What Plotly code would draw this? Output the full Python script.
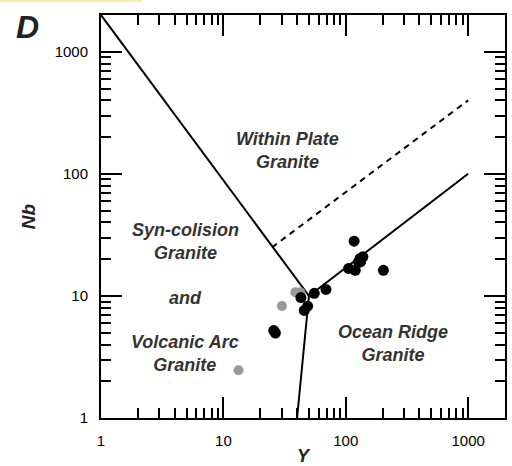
import plotly.graph_objects as go
import math

# Boundary lines (Pearce et al. 1984 Nb-Y diagram)
vag_wpg_x = [1, 50]
vag_wpg_y = [2000, 10]
org_x = [40, 50, 1000]
org_y = [1, 10, 100]
dash_x = [25, 1000]
dash_y = [25, 400]

# Samples
black_y_vals = [117, 131, 138, 127, 132, 105.5, 119.6, 203, 68.9, 55.3, 43, 48.8, 45.8, 25.8, 26.6]
black_nb_vals = [28.1, 20.3, 20.9, 19.0, 19.0, 16.8, 16.2, 16.2, 11.3, 10.5, 9.7, 8.24, 7.6, 5.2, 4.97]
gray_y_vals = [38.7, 42.5, 30.1, 13.3]
gray_nb_vals = [10.7, 10.7, 8.28, 2.46]

major_ticks = [1, 10, 100, 1000]
minor_ticks = [m * d for d in [1, 10, 100, 1000] for m in range(2, 10) if m * d <= 2000]

labels = [
    ("Within Plate<br>Granite", 33.1, 156),
    ("Syn-colision<br>Granite", 4.9, 28.1),
    ("and", 4.9, 9.63),
    ("Volcanic Arc<br>Granite", 4.9, 3.37),
    ("Ocean Ridge<br>Granite", 245, 4.11),
]

FONT = "Liberation Sans, Arial"

fig = go.Figure()
line = dict(color="black", width=2)
fig.add_trace(go.Scatter(x=vag_wpg_x, y=vag_wpg_y, mode="lines", line=line, hoverinfo="skip"))
fig.add_trace(go.Scatter(x=org_x, y=org_y, mode="lines", line=line, hoverinfo="skip"))
fig.add_trace(go.Scatter(x=dash_x, y=dash_y, mode="lines",
                         line=dict(color="black", width=2, dash="6px,5px"), hoverinfo="skip"))
fig.add_trace(go.Scatter(x=gray_y_vals, y=gray_nb_vals, mode="markers",
                         marker=dict(color="#999999", size=10)))
fig.add_trace(go.Scatter(x=black_y_vals, y=black_nb_vals, mode="markers",
                         marker=dict(color="black", size=11)))

for txt, x, y in labels:
    fig.add_annotation(x=math.log10(x), y=math.log10(y), text="<b><i>" + txt.replace("<br>", "</i></b><br><b><i>") + "</i></b>",
                       showarrow=False,
                       font=dict(family=FONT, size=18, color="#333333"),
                       xref="x", yref="y")

fig.add_annotation(x=(27 - 101) / 404, y=(418 - 27) / 403, xref="paper", yref="paper",
                   text="<b><i>D</i></b>", showarrow=False, xanchor="center", yanchor="middle",
                   font=dict(family=FONT, size=32, color="#222222"))

ax_common = dict(
    type="log",
    range=[0, math.log10(2000)],
    tickvals=major_ticks,
    ticktext=[str(v) for v in major_ticks],
    ticks="inside",
    ticklen=21,
    tickwidth=2,
    tickcolor="black",
    showline=True,
    linecolor="black",
    linewidth=2,
    mirror="allticks",
    showgrid=False,
    zeroline=False,
    automargin=False,
    tickfont=dict(family=FONT, size=15, color="black"),
    minor=dict(ticks="inside", ticklen=10, tickwidth=2, tickcolor="black",
               tickmode="array", tickvals=minor_ticks, showgrid=False),
)

fig.update_xaxes(**ax_common, ticklabelstandoff=8,
                 title=dict(text="<b><i>Y</i></b>", standoff=2,
                            font=dict(family=FONT, size=18, color="#222222")))
fig.update_yaxes(**ax_common, ticklabelstandoff=8,
                 title=dict(text="<b><i>Nb</i></b>", standoff=14,
                            font=dict(family=FONT, size=19, color="#222222")))

fig.add_shape(type="rect", xref="paper", yref="paper", x0=-101/404, x1=(142-101)/404,
              y0=1 + 13/403, y1=1 + 15/403, fillcolor="#f6f0a0", line=dict(width=0), layer="below")

fig.update_layout(
    width=512, height=466,
    margin=dict(l=101, r=7, t=15, b=48),
    plot_bgcolor="white", paper_bgcolor="white",
    showlegend=False,
)

fig.write_html("out.html")
